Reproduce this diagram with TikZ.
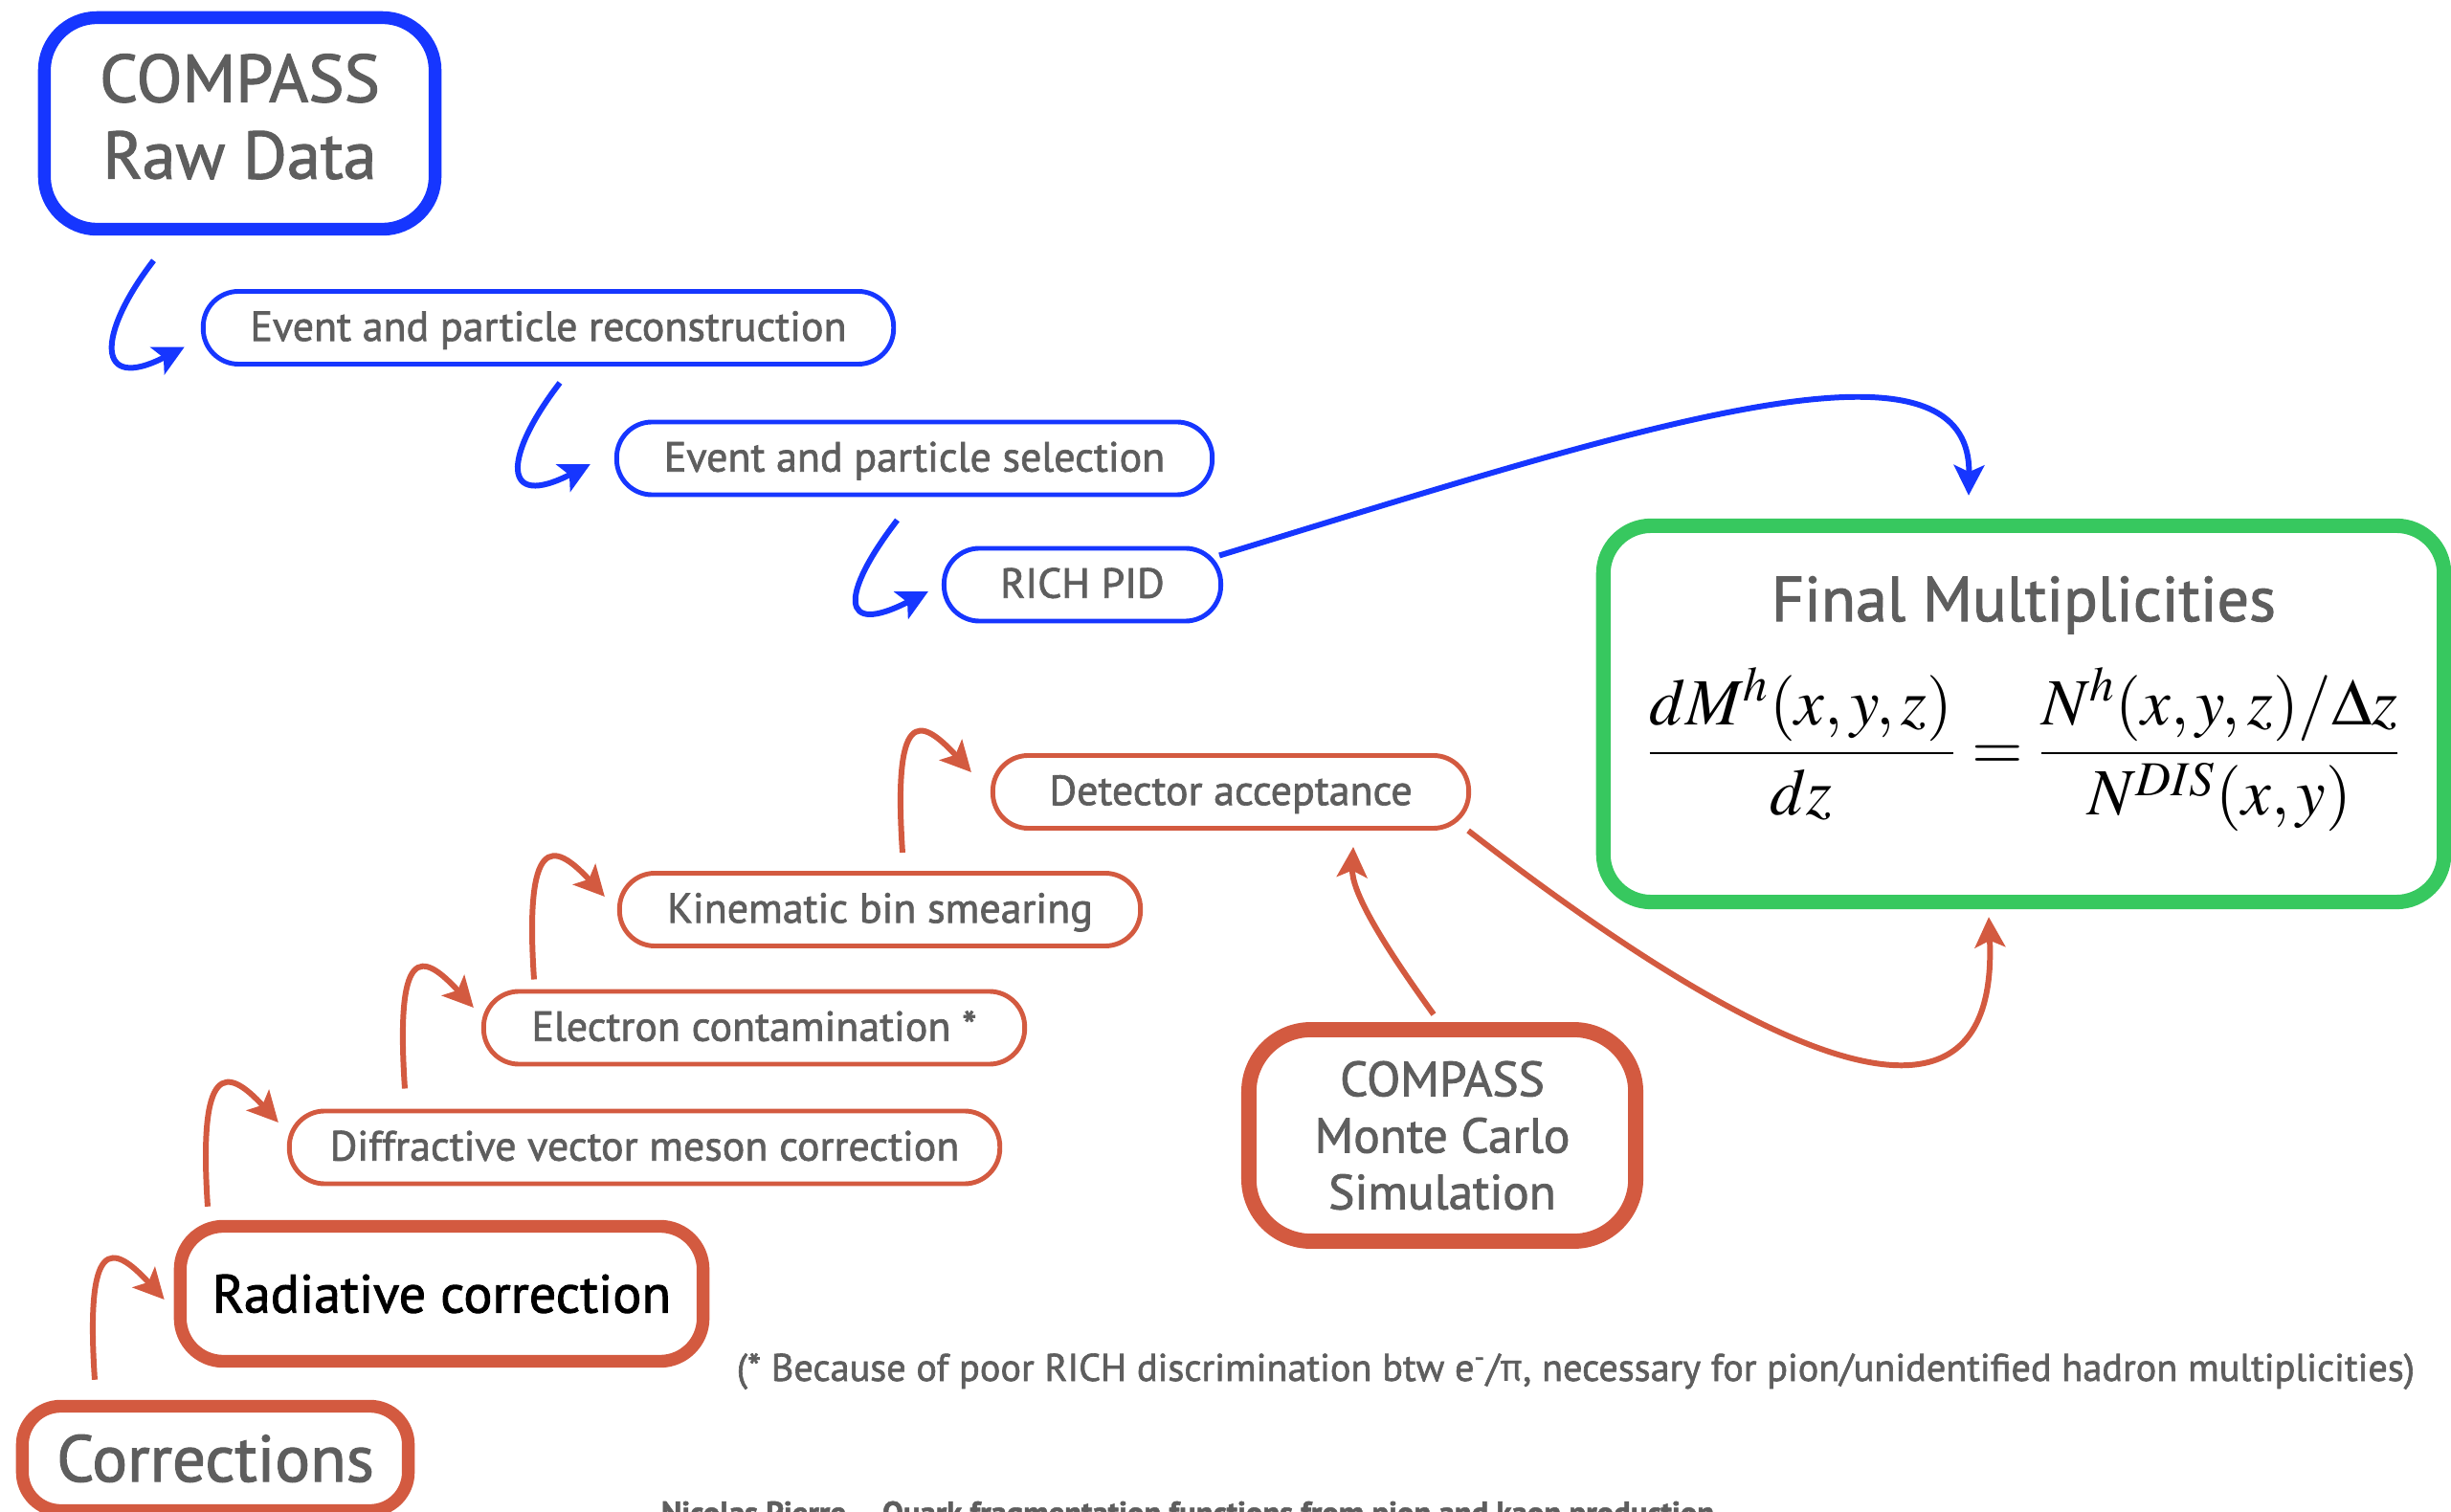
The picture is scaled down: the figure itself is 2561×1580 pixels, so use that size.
\documentclass[tikz,border=0pt]{standalone}
\usepackage{mathptmx}
\usepackage{fontspec}
\setmainfont{PT Sans}[FakeBold=1.6]
\newfontfamily\grk{Fira Sans}
\usetikzlibrary{arrows.meta}
\definecolor{cblue}{HTML}{1636FF}
\definecolor{cred}{HTML}{D35A40}
\definecolor{cgreen}{HTML}{37C85F}
\definecolor{cgray}{HTML}{5E5E5E}
\newcommand\liftup[2]{\raisebox{0pt}[\height][\dimexpr\depth+#1\relax]{#2}}
\tikzset{
  pill/.style={draw, line width=1.4pt, rounded corners=0.37cm, minimum height=0.76cm,
    text height=9.5pt, text depth=1.7pt, text=cgray, font=\fontsize{12.5}{15}\selectfont},
  bigbox/.style={draw, line width=3.8pt, rounded corners=0.5cm, align=center},
  hook/.style={line width=1.7pt, -{Stealth[length=9pt,width=9pt,inset=2pt]}},
}

\begin{document}
\begin{tikzpicture}[x=0.01cm,y=-0.01cm]
\useasboundingbox (0,0) rectangle (2561,1580);

\node[bigbox, draw=cblue, text=cgray, rounded corners=0.55cm, minimum width=4.08cm, minimum height=2.21cm,
  font=\fontsize{20}{22.8}\selectfont] (raw) at (250.5,129) {COMPASS\\\liftup{4pt}{Raw Data}};
\node[pill, draw=cblue, minimum width=7.21cm] (reco) at (573,342.5) {Event and particle reconstruction};
\node[pill, draw=cblue, minimum width=6.22cm] (sel) at (955.5,479) {Event and particle selection};
\node[pill, draw=cblue, minimum width=2.89cm] (rich) at (1131,611) {RICH PID};

\node[bigbox, draw=cgreen, line width=4.3pt, text=cgray, minimum width=8.78cm, minimum height=3.93cm,
  font=\fontsize{18.8}{22}\selectfont] (final) at (2114.5,746)
  {Final Multiplicities\\[9pt]
   \liftup{6pt}{\fontsize{19.6}{22}\selectfont\color{black}%
   $\displaystyle\frac{dM^{h}(x,y,z)}{dz}=\frac{N^{h}(x,y,z)/\Delta z}{N^{DIS}(x,y)}$}};

\node[pill, draw=cred, minimum width=4.97cm] (det) at (1286,827.5) {Detector acceptance};
\node[pill, draw=cred, minimum width=5.44cm] (kin) at (919.5,950.5) {Kinematic bin smearing};
\node[pill, draw=cred, minimum width=5.65cm] (ele) at (788,1074) {Electron contamination *};
\node[pill, draw=cred, minimum width=7.42cm] (dif) at (673.5,1199) {Diffractive vector meson correction};
\node[bigbox, draw=cred, text=black, rounded corners=0.45cm, minimum width=5.46cm, minimum height=1.41cm,
  font=\fontsize{16}{19}\selectfont] (rad) at (461.5,1352) {Radiative correction};
\node[bigbox, draw=cred, text=cgray, rounded corners=0.4cm, minimum width=4.03cm, minimum height=1.09cm,
  font=\fontsize{19.6}{22}\selectfont] (cor) at (225,1524) {Corrections};
\node[bigbox, draw=cred, line width=4.5pt, text=cgray, rounded corners=0.65cm, minimum width=4.04cm,
  minimum height=2.21cm, font=\fontsize{14.6}{16.8}\selectfont] (mc) at (1507,1186.5)
  {COMPASS\\Monte Carlo\\Simulation};

\node[text=cgray, anchor=base west, inner sep=0pt, font=\fontsize{11.45}{14}\selectfont] (note) at (769,1443)
  {(* Because of poor RICH discrimination btw e\textsuperscript{-}/{\grk π}, necessary for pion/unidentified hadron multiplicities)};
\node[text=cgray, anchor=north, inner sep=0pt, font=\bfseries\fontsize{9.3}{12}\selectfont] (footer) at (1241,1568)
  {Nicolas Pierre -- Quark fragmentation functions from pion and kaon production};

\foreach \a/\b/\sx/\sy/\tx/\ty in {raw.south/reco.west/-90/26/-17/20, reco.south/sel.west/12/17/-25/6,
    sel.south/rich.west/-18/24/-14/7}
  \draw[hook, cblue] ([shift={(\sx,\sy)}]\a) .. controls +(-60,78) and +(-93,48) .. ([shift={(\tx,\ty)}]\b);

\foreach \a/\b/\sx/\sy/\tx/\ty in {cor.north/rad.west/-126/-21/-10/6, rad.north/dif.west/-244.5/-14/-9/-26,
    dif.north/ele.west/-250.5/-21/-8/-21, ele.north/kin.west/-230/-10/-13/-13.5,
    kin.north/det.west/23.5/-19/-20/-20.5}
  \draw[hook, cred] ([shift={(\sx,\sy)}]\a) .. controls +(-10,-150) and +(-55,-60) .. ([shift={(\tx,\ty)}]\b);

\draw[hook, cblue] ([shift={(-4,10)}]rich.north east) .. controls +(425,-130) and +(3,-188) .. ([shift={(-57.5,-24)}]final.north);
\draw[hook, cred] ([shift={(-9,-8)}]mc.north) .. controls +(-58,-80) and +(-2,45) .. ([shift={(128,17)}]det.south);
\draw[hook, cred] ([shift={(-3,0)}]det.south east) .. controls +(286,222) and +(12,272) .. ([shift={(-36.5,8)}]final.south);
\end{tikzpicture}
\end{document}
